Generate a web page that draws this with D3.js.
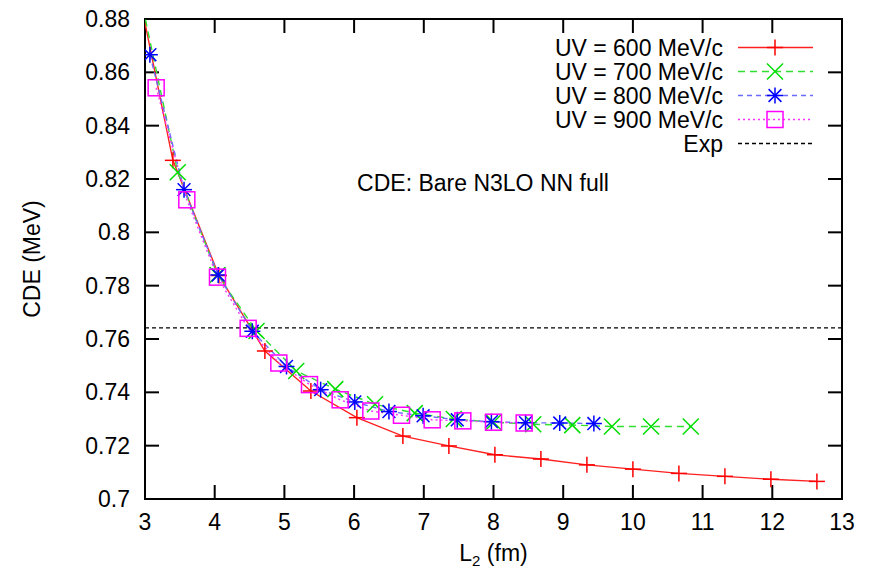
<!DOCTYPE html>
<html>
<head>
<meta charset="utf-8">
<script src="https://cdn.jsdelivr.net/npm/d3@7"></script>
<style>
  html, body { margin: 0; padding: 0; background: #fff; }
  svg { display: block; font-family: "Liberation Sans", Arial, Helvetica, sans-serif; }
</style>
</head>
<body>
<svg id="chart" width="869" height="573"></svg>
<script>
// L2 (fm) positions and CDE (MeV) values for each UV cutoff
const x600 = [2.74, 3.40, 4.06, 4.72, 5.38, 6.04, 6.70, 7.36, 8.02, 8.68, 9.34, 10.00, 10.66, 11.32, 11.98, 12.64];
const y600 = [0.912, 0.827, 0.7838, 0.7555, 0.7405, 0.7305, 0.7236, 0.7199, 0.7166, 0.7150, 0.7128, 0.7112, 0.7096, 0.7085, 0.7074, 0.7066];

const x700 = [2.90, 3.47, 4.04, 4.60, 5.17, 5.73, 6.30, 6.87, 7.43, 8.00, 8.57, 9.13, 9.70, 10.26, 10.83];
const y700 = [0.893, 0.8225, 0.7840, 0.7630, 0.7480, 0.7412, 0.7355, 0.7322, 0.7300, 0.7288, 0.7280, 0.7277, 0.7272, 0.7272, 0.7272];

const x800 = [3.07, 3.56, 4.05, 4.54, 5.03, 5.52, 6.01, 6.50, 6.99, 7.48, 7.97, 8.46, 8.95, 9.44];
const y800 = [0.8666, 0.8160, 0.7840, 0.7629, 0.7497, 0.7410, 0.7364, 0.7328, 0.7312, 0.7297, 0.7290, 0.7286, 0.7285, 0.7283];

const x900 = [3.16, 3.60, 4.04, 4.48, 4.92, 5.36, 5.80, 6.24, 6.68, 7.12, 7.56, 8.00, 8.44];
const y900 = [0.8542, 0.8122, 0.7832, 0.7640, 0.7510, 0.7429, 0.7372, 0.7330, 0.7314, 0.7297, 0.7293, 0.7288, 0.7285];

const expValue = 0.7642;

const xTicks = [3, 4, 5, 6, 7, 8, 9, 10, 11, 12, 13];
const yTicks = [0.70, 0.72, 0.74, 0.76, 0.78, 0.80, 0.82, 0.84, 0.86, 0.88];
const yTickLabels = ["0.7", "0.72", "0.74", "0.76", "0.78", "0.8", "0.82", "0.84", "0.86", "0.88"];

const seriesNames = ["UV = 600 MeV/c", "UV = 700 MeV/c", "UV = 800 MeV/c", "UV = 900 MeV/c"];
const seriesColors = ["#ff0000", "#00dd00", "#0000ff", "#ff00ff"];
const lineColors = ["#ff2020", "#30e030", "#6a6aff", "#ff30ff"];
const dashes = [null, "7,5", "5,4", "2,3"];
const markers = ["plus", "cross", "star", "square"];

const svg = d3.select("#chart");
const L = 145, R = 842, T = 19, B = 499;

const x = d3.scaleLinear().domain([3, 13]).range([L, R]);
const y = d3.scaleLinear().domain([0.70, 0.88]).range([B, T]);

svg.append("clipPath").attr("id", "plotclip")
  .append("rect").attr("x", L).attr("y", T).attr("width", R - L).attr("height", B - T);

// frame
svg.append("rect").attr("x", L).attr("y", T).attr("width", R - L).attr("height", B - T)
  .attr("fill", "none").attr("stroke", "#000").attr("stroke-width", 2);

// mirrored inward ticks
const tickLen = 14;
const tk = svg.append("g").attr("stroke", "#000").attr("stroke-width", 2);
xTicks.slice(1, -1).forEach(t => {
  tk.append("line").attr("x1", x(t)).attr("x2", x(t)).attr("y1", B).attr("y2", B - tickLen);
  tk.append("line").attr("x1", x(t)).attr("x2", x(t)).attr("y1", T).attr("y2", T + tickLen);
});
yTicks.slice(1, -1).forEach(t => {
  tk.append("line").attr("x1", L).attr("x2", L + tickLen).attr("y1", y(t)).attr("y2", y(t));
  tk.append("line").attr("x1", R).attr("x2", R - tickLen).attr("y1", y(t)).attr("y2", y(t));
});

// tick labels
const fs = 23;
svg.append("g").selectAll("text").data(xTicks).join("text")
  .attr("x", d => x(d)).attr("y", B + 31).attr("text-anchor", "middle")
  .attr("font-size", fs).text(d => d);
svg.append("g").selectAll("text").data(yTicks).join("text")
  .attr("x", L - 15).attr("y", d => y(d)).attr("dy", "0.35em").attr("text-anchor", "end")
  .attr("font-size", fs).text((d, i) => yTickLabels[i]);

// axis titles
const xl = svg.append("text").attr("x", (L + R) / 2).attr("y", B + 62)
  .attr("text-anchor", "middle").attr("font-size", fs);
xl.append("tspan").text("L");
xl.append("tspan").attr("font-size", 15).attr("dy", 5).text("2");
xl.append("tspan").attr("dy", -5).text(" (fm)");

svg.append("text").attr("transform", `translate(40,${(T + B) / 2}) rotate(-90)`)
  .attr("text-anchor", "middle").attr("font-size", fs).text("CDE (MeV)");

// annotation
svg.append("text").attr("x", 483).attr("y", 183).attr("dy", "0.35em")
  .attr("text-anchor", "middle").attr("font-size", fs).text("CDE: Bare N3LO NN full");

// marker shapes
function drawMarker(g, kind, cx, cy, color) {
  const s = 8;
  const m = g.append("g").attr("stroke", color).attr("stroke-width", 1.5).attr("fill", "none");
  if (kind === "plus") {
    m.append("line").attr("x1", cx - s).attr("x2", cx + s).attr("y1", cy).attr("y2", cy);
    m.append("line").attr("x1", cx).attr("x2", cx).attr("y1", cy - s).attr("y2", cy + s);
  } else if (kind === "cross") {
    m.append("line").attr("x1", cx - s).attr("x2", cx + s).attr("y1", cy - s).attr("y2", cy + s);
    m.append("line").attr("x1", cx - s).attr("x2", cx + s).attr("y1", cy + s).attr("y2", cy - s);
  } else if (kind === "star") {
    m.append("line").attr("x1", cx - s).attr("x2", cx + s).attr("y1", cy).attr("y2", cy);
    m.append("line").attr("x1", cx).attr("x2", cx).attr("y1", cy - s).attr("y2", cy + s);
    m.append("line").attr("x1", cx - s * 0.8).attr("x2", cx + s * 0.8).attr("y1", cy - s * 0.8).attr("y2", cy + s * 0.8);
    m.append("line").attr("x1", cx - s * 0.8).attr("x2", cx + s * 0.8).attr("y1", cy + s * 0.8).attr("y2", cy - s * 0.8);
  } else {
    m.append("rect").attr("x", cx - s).attr("y", cy - s).attr("width", 2 * s).attr("height", 2 * s);
  }
}

const seriesData = [
  d3.zip(x600, y600), d3.zip(x700, y700), d3.zip(x800, y800), d3.zip(x900, y900)
];

const plot = svg.append("g").attr("clip-path", "url(#plotclip)");
const line = d3.line().x(d => x(d[0])).y(d => y(d[1]));

// Exp reference line
plot.append("line").attr("x1", x(3)).attr("x2", x(13)).attr("y1", y(expValue)).attr("y2", y(expValue))
  .attr("stroke", "#000").attr("stroke-width", 1.3).attr("stroke-dasharray", "4,3");

seriesData.forEach((pts, i) => {
  plot.append("path").datum(pts).attr("d", line)
    .attr("fill", "none").attr("stroke", lineColors[i]).attr("stroke-width", 1.4)
    .attr("stroke-dasharray", dashes[i]);
});
seriesData.forEach((pts, i) => {
  const g = plot.append("g");
  pts.forEach(p => drawMarker(g, markers[i], x(p[0]), y(p[1]), seriesColors[i]));
});

// legend
const legX1 = 738, legX2 = 813, legMid = 775, legText = 723;
const legY = [47.5, 71.5, 95.5, 119.5, 143.5];
seriesNames.forEach((name, i) => {
  svg.append("text").attr("x", legText).attr("y", legY[i]).attr("dy", "0.35em")
    .attr("text-anchor", "end").attr("font-size", fs).text(name);
  svg.append("line").attr("x1", legX1).attr("x2", legX2).attr("y1", legY[i]).attr("y2", legY[i])
    .attr("stroke", lineColors[i]).attr("stroke-width", 1.4).attr("stroke-dasharray", dashes[i]);
  drawMarker(svg, markers[i], legMid, legY[i], seriesColors[i]);
});
svg.append("text").attr("x", legText).attr("y", legY[4]).attr("dy", "0.35em")
  .attr("text-anchor", "end").attr("font-size", fs).text("Exp");
svg.append("line").attr("x1", legX1).attr("x2", legX2).attr("y1", legY[4]).attr("y2", legY[4])
  .attr("stroke", "#000").attr("stroke-width", 1.3).attr("stroke-dasharray", "4,3");
</script>
</body>
</html>
